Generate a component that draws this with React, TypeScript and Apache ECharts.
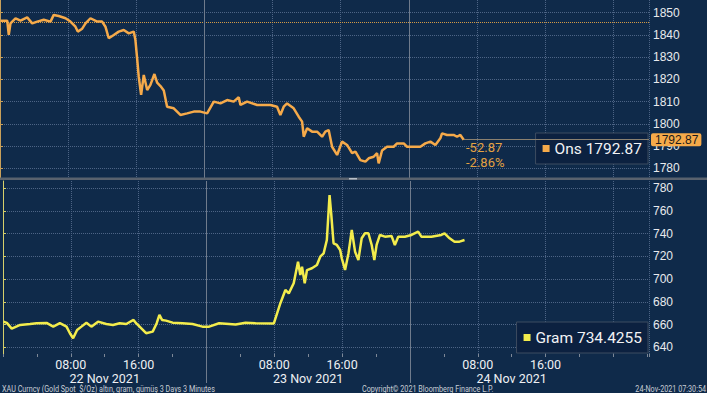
import React, { useEffect, useRef } from 'react';
import * as echarts from 'echarts';

// ---- Data (hours since 22 Nov 2021 00:00) ----
const onsHours = [0.06,0.85,1.03,1.23,1.82,2.41,3.19,3.78,4.37,5.14,5.93,6.31,6.9,7.69,8.27,8.86,9.13,9.65,10.04,10.62,11.41,11.99,12.38,12.77,13.36,13.94,14.53,15.12,15.7,15.9,16.1,16.29,16.57,16.88,17.28,17.66,18.13,18.45,18.84,19.23,19.62,20.4,21.18,21.97,22.75,23.53,24.32,25.1,25.88,26.67,27.44,28.03,28.23,29.01,30.19,31.75,32.53,32.92,33.31,33.71,34.48,35.07,35.47,35.66,36.06,36.64,37.23,37.82,38.2,38.59,38.99,39.58,40.16,40.75,41.34,41.73,42.31,42.9,43.29,43.87,44.27,44.46,44.86,45.44,46.22,46.62,47.4,47.79,48.57,49.35,49.94,50.53,51.12,51.7,51.9,52.49,53.26,53.66,54.05,54.44];
const onsValues = [1846.4,1846.4,1840.0,1845.2,1847.5,1846.4,1847.9,1845.2,1846.0,1846.8,1846.0,1849.0,1848.5,1847.5,1846.0,1843.7,1841.5,1842.8,1845.2,1847.5,1846.0,1846.0,1843.7,1838.5,1840.0,1841.5,1842.2,1840.7,1841.5,1837.7,1829.5,1821.2,1813.0,1822.0,1815.2,1817.5,1822.4,1818.5,1817.0,1815.0,1807.7,1807.0,1804.0,1804.7,1805.5,1805.5,1804.7,1810.0,1809.2,1810.7,1810.0,1812.0,1808.5,1810.0,1808.5,1808.5,1807.7,1804.0,1807.7,1809.2,1807.0,1803.2,1801.0,1794.2,1798.0,1796.5,1796.5,1794.2,1796.5,1797.2,1789.7,1786.0,1792.0,1790.5,1786.8,1787.5,1783.7,1783.0,1784.5,1785.2,1786.8,1782.2,1788.0,1789.7,1789.7,1791.2,1791.2,1789.7,1789.7,1789.7,1791.2,1792.0,1790.5,1793.5,1795.7,1795.0,1795.0,1794.2,1795.0,1792.87];

const gramHours = [0.06,0.45,1.03,2.02,3.19,3.97,5.14,5.93,6.71,7.49,7.89,8.27,8.74,9.25,9.84,10.42,11.21,12.18,12.97,13.76,14.53,15.4,15.7,16.29,16.88,17.66,18.13,18.45,18.76,19.23,20.01,21.18,22.36,23.53,24.32,25.49,26.67,27.44,28.62,29.79,31.95,32.34,32.72,33.31,33.71,34.29,34.8,35.07,35.27,35.59,35.86,36.44,37.03,37.42,37.82,38.2,38.52,38.71,38.99,39.38,39.77,39.96,40.35,40.75,41.14,41.53,41.92,42.31,42.7,43.1,43.49,43.8,44.07,44.46,45.05,45.83,46.22,46.62,47.4,48.18,48.97,49.35,50.53,51.7,52.09,52.68,53.26,53.85,54.44];
const gramValues = [662.6,661.5,656.5,659.7,660.5,661.2,661.5,658.2,661.2,658.2,652.4,648.0,655.3,658.2,661.7,658.2,662.6,660.5,659.7,661.2,660.5,664.1,661.2,656.8,652.4,653.8,661.2,668.5,664.1,663.5,661.7,661.2,660.5,658.2,658.2,661.2,660.5,660.0,661.7,661.2,661.0,670.0,678.8,690.5,687.5,696.4,715.4,703.7,711.0,696.4,708.0,709.6,712.5,719.8,722.7,734.5,774.1,758.0,731.6,730.1,725.7,718.4,708.1,722.7,743.3,724.2,716.9,736.0,740.4,740.4,730.1,716.9,730.1,738.9,737.4,738.1,730.1,737.4,737.4,738.9,741.8,737.4,737.4,738.9,740.4,736.0,733.0,733.0,734.4255];

const onsTicks = [1780, 1790, 1800, 1810, 1820, 1830, 1840, 1850];
const gramTicks = [640, 660, 680, 700, 720, 740, 760, 780];
const hourLabelValues = [8, 16];
const hourLabelTexts = ['08:00', '16:00'];
const dateCenters = [12, 36, 60];
const dateLabels = ['22 Nov 2021', '23 Nov 2021', '24 Nov 2021'];
const dayBoundaries = [24, 48];

const onsLast = 1792.87;
const onsLastText = '1792.87';
const onsPrevClose = 1845.74;
const onsChange = -52.87;
const onsChangePct = -2.86;
const gramLast = 734.4255;
const gramLastText = '734.4255';

const footerLeft = 'XAU Curncy (Gold Spot  $/Oz) altın, gram, gümüş 3 Days 3 Minutes';
const footerMid = 'Copyright© 2021 Bloomberg Finance L.P.';
const footerRight = '24-Nov-2021 07:30:54';

// ---- Styles ----
const X_MIN = 0;
const X_MAX = 76.2;
const BG = '#0f2a4a';
const GRIDC = '#4d6485';
const ONS = '#f6aa4a';
const GRAM = '#f3ec4c';
const NARROW = "'Liberation Sans Narrow', Roboto, sans-serif";
const SANS = "'Liberation Sans', Arial, sans-serif";

const onsData = onsHours.map((h, i) => [h, onsValues[i]]);
const gramData = gramHours.map((h, i) => [h, gramValues[i]]);

const hourFormatter = (v: number) => {
  const m = ((v % 24) + 24) % 24;
  for (let i = 0; i < hourLabelValues.length; i++) {
    if (Math.abs(m - hourLabelValues[i]) < 0.01) return hourLabelTexts[i];
  }
  return '';
};

const dateFormatter = (v: number) => {
  const i = dateCenters.findIndex((c) => Math.abs(c - v) < 0.01);
  return i >= 0 ? dateLabels[i] : '';
};

const dayLine = (x: number) => ({
  xAxis: x,
  lineStyle: { color: '#6f7b8c', width: 1, type: 'solid' },
  label: { show: false },
});

const plainX = (gridIndex: number) => ({
  gridIndex,
  type: 'value',
  min: X_MIN,
  max: X_MAX,
  interval: 8,
  axisLine: { show: false },
  axisTick: { show: false },
  axisLabel: { show: false },
  splitLine: { show: true, lineStyle: { color: GRIDC, type: 'dotted', width: 1 } },
});

const legendCommon = {
  right: 59,
  backgroundColor: '#0c2140',
  borderColor: '#3d4c60',
  borderWidth: 1,
  padding: [5, 6, 5, 7],
  itemWidth: 7,
  itemHeight: 7,
  selectedMode: false,
  textStyle: { color: '#f2f3f5', fontSize: 15.5, fontFamily: NARROW, lineHeight: 21 },
};

const footerStyle = { fill: '#c9ced6', fontSize: 8.5, fontFamily: NARROW, textVerticalAlign: 'top' };

const option: any = {
  animation: false,
  backgroundColor: BG,
  grid: [
    { left: 0, right: 58, top: 0, height: 179 },
    { left: 0, right: 58, top: 181, height: 173 },
  ],
  xAxis: [
    plainX(0),
    {
      ...plainX(1),
      position: 'bottom',
      axisTick: { show: true, length: 3, lineStyle: { color: '#7d8897' } },
      minorTick: { show: true, splitNumber: 2, length: 3, lineStyle: { color: '#7d8897' } },
      axisLabel: {
        show: true,
        formatter: hourFormatter,
        color: '#eef0f3',
        fontSize: 12.5,
        fontFamily: NARROW,
        margin: 4,
      },
    },
    {
      gridIndex: 1,
      type: 'value',
      min: X_MIN,
      max: X_MAX,
      position: 'bottom',
      offset: 14,
      axisLine: { show: false },
      axisTick: { show: false },
      splitLine: { show: false },
      axisLabel: {
        show: true,
        customValues: dateCenters,
        formatter: dateFormatter,
        color: '#eef0f3',
        fontSize: 12.5,
        fontFamily: NARROW,
        margin: 4,
      },
    },
    {
      gridIndex: 1,
      type: 'value',
      min: X_MIN,
      max: X_MAX,
      position: 'bottom',
      axisLine: { show: false },
      axisTick: { show: true, customValues: dayBoundaries, length: 29, lineStyle: { color: '#6f7b8c', width: 1 } },
      axisLabel: { show: false },
      splitLine: { show: false },
    },
  ],
  yAxis: [
    {
      gridIndex: 0,
      type: 'value',
      position: 'right',
      min: 1775.19,
      max: 1855.71,
      axisLine: { show: true, lineStyle: { color: '#c9a05a', width: 1 } },
      axisTick: { show: true, customValues: onsTicks, length: 3, lineStyle: { color: '#c9a05a' } },
      axisLabel: { customValues: onsTicks, formatter: (v: number) => String(v), color: '#e8eaee', fontSize: 12, fontFamily: SANS, margin: 4 },
      splitLine: { show: true, lineStyle: { color: GRIDC, type: 'dotted', width: 1 } },
    },
    {
      gridIndex: 1,
      type: 'value',
      position: 'right',
      min: 634.1,
      max: 786.43,
      axisLine: { show: true, lineStyle: { color: '#d6cf6a', width: 1 } },
      axisTick: { show: true, customValues: gramTicks, length: 3, lineStyle: { color: '#d6cf6a' } },
      axisLabel: { customValues: gramTicks, formatter: (v: number) => String(v), color: '#e8eaee', fontSize: 12, fontFamily: SANS, margin: 4 },
      splitLine: { show: true, lineStyle: { color: GRIDC, type: 'dotted', width: 1 } },
    },
  ],
  legend: [
    {
      ...legendCommon,
      data: [{ name: 'Ons', icon: 'rect' }],
      top: 133,
      formatter: (n: string) => `${n} ${onsLastText}`,
    },
    {
      ...legendCommon,
      data: [{ name: 'Gram', icon: 'rect' }],
      top: 322,
      formatter: (n: string) => `${n} ${gramLastText}`,
    },
  ],
  series: [
    {
      name: 'Ons',
      type: 'line',
      xAxisIndex: 0,
      yAxisIndex: 0,
      data: onsData,
      symbol: 'none',
      showSymbol: false,
      lineStyle: { color: ONS, width: 2.5 },
      itemStyle: { color: ONS },
      z: 5,
      markLine: {
        silent: true,
        symbol: 'none',
        label: { show: false },
        data: [
          { yAxis: onsPrevClose, lineStyle: { color: '#d39a45', type: 'dotted', width: 1 }, label: { show: false } },
          dayLine(dayBoundaries[0]),
          dayLine(dayBoundaries[1]),
          [
            {
              coord: [onsHours[onsHours.length - 1], onsLast],
              lineStyle: { color: '#8b8170', width: 1, type: 'solid' },
              label: {
                show: true,
                position: 'end',
                distance: 2,
                formatter: onsLastText,
                backgroundColor: ONS,
                color: '#1b1b1b',
                padding: [1, 3, 0, 4],
                borderRadius: 2,
                fontSize: 12,
                fontFamily: SANS,
              },
            },
            { coord: [X_MAX, onsLast] },
          ],
        ],
      },
    },
    {
      name: 'Gram',
      type: 'line',
      xAxisIndex: 1,
      yAxisIndex: 1,
      data: gramData,
      symbol: 'none',
      showSymbol: false,
      lineStyle: { color: GRAM, width: 2.5 },
      itemStyle: { color: GRAM },
      z: 5,
      markLine: {
        silent: true,
        symbol: 'none',
        label: { show: false },
        data: [
          dayLine(dayBoundaries[0]),
          dayLine(dayBoundaries[1]),
          [
            {
              coord: [gramHours[gramHours.length - 1], gramLast],
              lineStyle: { color: BG, width: 0, opacity: 0 },
              label: {
                show: true,
                position: 'end',
                distance: 2,
                formatter: gramLastText,
                backgroundColor: GRAM,
                color: '#1b1b1b',
                padding: [2, 3, 1, 4],
                borderRadius: 2,
                fontSize: 12,
                fontFamily: SANS,
              },
            },
            { coord: [X_MAX, gramLast] },
          ],
        ],
      },
    },
  ],
  graphic: [
    { type: 'rect', left: 0, top: 177.5, shape: { width: 707, height: 2.5 }, style: { fill: '#59626e' }, z: 10 },
    { type: 'rect', left: 349, top: 178, shape: { width: 8, height: 1.5 }, style: { fill: '#b8bfc8' }, z: 11 },
    {
      type: 'text',
      left: 466,
      top: 140,
      style: {
        text: `${onsChange.toFixed(2)}\n${onsChangePct.toFixed(2)}%`,
        fill: '#e3a243',
        fontSize: 13,
        fontFamily: NARROW,
        lineHeight: 15,
      },
      z: 10,
    },
    { type: 'text', x: 2, y: 385, scaleX: 0.85, style: { ...footerStyle, text: footerLeft, textAlign: 'left' } },
    { type: 'text', x: 362, y: 385, scaleX: 0.85, style: { ...footerStyle, text: footerMid, textAlign: 'left' } },
    { type: 'text', x: 706, y: 385, scaleX: 0.85, style: { ...footerStyle, text: footerRight, textAlign: 'right' } },
  ],
};

export default function App() {
  const ref = useRef<HTMLDivElement>(null);
  useEffect(() => {
    if (!ref.current) return;
    const chart = echarts.init(ref.current, null, { renderer: 'svg' });
    chart.setOption(option);
    return () => chart.dispose();
  }, []);
  return <div ref={ref} style={{ position: 'fixed', left: 0, top: 0, width: 707, height: 393 }} />;
}
